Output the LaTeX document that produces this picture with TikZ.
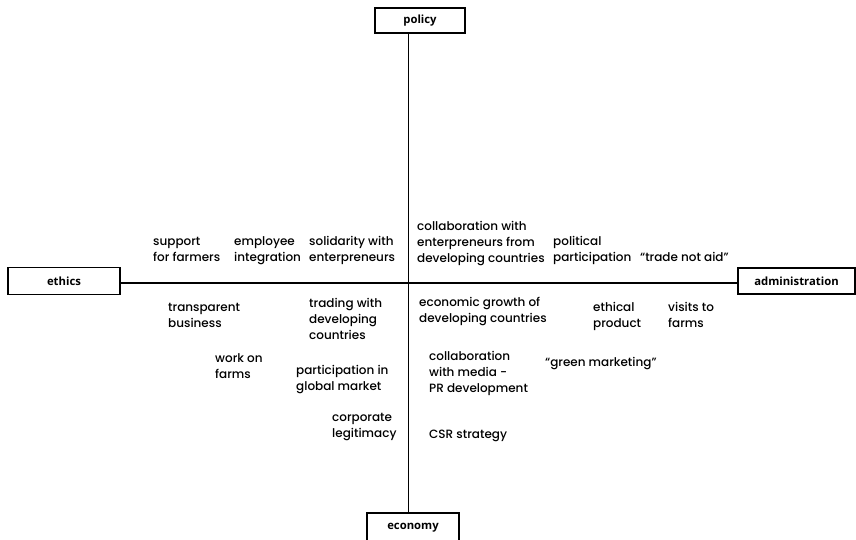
\documentclass[tikz,border=0pt]{standalone}
\usepackage{fontspec}
\setmainfont{Poppins}[UprightFont={* Medium}]
\newfontfamily\boxfont{Open Sans}
\tikzset{
  axisbox/.style={draw, line width=1.3pt, inner sep=0pt, font=\boxfont\bfseries\fontsize{11.3}{13}\selectfont},
  item/.style={anchor=base west, align=left, inner sep=0pt, font=\fontsize{12}{16}\selectfont},
  axis/.style={line width=1.2pt}
}
\begin{document}
\begin{tikzpicture}[x=1pt,y=-1pt]
\useasboundingbox (0,0) rectangle (856,539);
% boxes
\node[axisbox, minimum width=90pt, minimum height=25pt] (policy) at (420,20.5) {policy};
\node[axisbox, minimum width=112pt, minimum height=27pt] (ethics) at (64,281) {ethics};
\node[axisbox, minimum width=117pt, minimum height=26pt] (admin) at (796.5,281) {administration};
\node[axisbox, minimum width=92pt, minimum height=30pt] (economy) at (413,528) {economy};
% axes
\coordinate (vx) at (408.5,0);
\coordinate (hy) at (0,283);
\draw[axis] (policy.south -| vx) -- (economy.north -| vx);
\draw[axis] (ethics.east |- hy) -- (admin.west |- hy);
% items (anchored at the baseline of the last line)
\node[item] (t1) at (153,261) {support\\for farmers};
\node[item] (t2) at (234,261) {employee\\integration};
\node[item] (t3) at (309,261) {solidarity with\\enterpreneurs};
\node[item] (t4) at (417,262) {collaboration with\\enterpreneurs from\\developing countries};
\node[item] (t5) at (553,261) {political\\participation};
\node[item] (t6) at (640,261) {“trade not aid”};
\node[item] (t7) at (168,327) {transparent\\business};
\node[item] (t8) at (309,339) {trading with\\developing\\countries};
\node[item] (t9) at (419,322.5) {economic growth of\\developing countries};
\node[item] (t10) at (593,327) {ethical\\product};
\node[item] (t11) at (668,327) {visits to\\farms};
\node[item] (t12) at (215,378) {work on\\farms};
\node[item] (t13) at (296,390) {participation in\\global market};
\node[item] (t14) at (429,392) {collaboration\\with media -\\PR development};
\node[item] (t15) at (545,366) {“green marketing”};
\node[item] (t16) at (332,437) {corporate\\legitimacy};
\node[item] (t17) at (429,438) {CSR strategy};
\end{tikzpicture}
\end{document}
